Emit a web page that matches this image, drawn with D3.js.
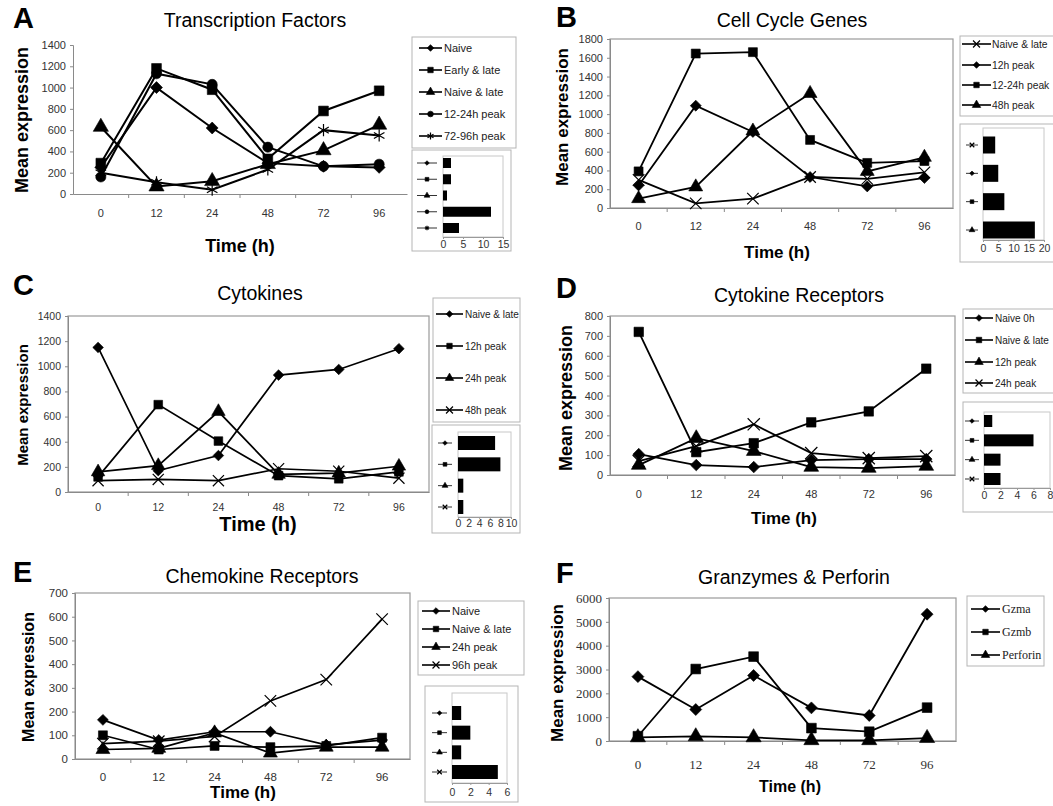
<!DOCTYPE html>
<html>
<head>
<meta charset="utf-8">
<script src="https://cdn.jsdelivr.net/npm/d3@7"></script>
<style>
  body { margin: 0; background: #fff; }
  svg { display: block; font-family: "Liberation Sans", Arial, sans-serif; }
</style>
</head>
<body>
<svg id="fig" width="1053" height="806"></svg>
<script>
// time points shared by every panel
const times = ['0', '12', '24', '48', '72', '96'];

// A - transcription factors
const tfNames = ['Naive', 'Early & late', 'Naive & late', '12-24h peak', '72-96h peak'];
const tfNaive = [250, 1000, 620, 290, 260, 250];
const tfEarlyLate = [290, 1180, 980, 330, 780, 970];
const tfNaiveLate = [630, 70, 120, 280, 410, 650];
const tfPeak1224 = [160, 1130, 1030, 440, 260, 280];
const tfPeak7296 = [200, 110, 40, 230, 600, 550];
const tfTicks = [0, 200, 400, 600, 800, 1000, 1200, 1400];
const tfCounts = [2, 2, 1, 12, 4];
const tfCountTicks = [0, 5, 10, 15];

// B - cell cycle genes
const ccNames = ['Naive & late', '12h peak', '12-24h peak', '48h peak'];
const ccNaiveLate = [300, 50, 100, 330, 310, 380];
const ccPeak12 = [240, 1090, 810, 330, 230, 320];
const ccPeak1224 = [390, 1645, 1660, 725, 480, 500];
const ccPeak48 = [100, 225, 820, 1220, 390, 540];
const ccTicks = [0, 200, 400, 600, 800, 1000, 1200, 1400, 1600, 1800];
const ccCounts = [4, 5, 7, 17];
const ccCountTicks = [0, 5, 10, 15, 20];

// C - cytokines
const ckNames = ['Naive & late', '12h peak', '24h peak', '48h peak'];
const ckNaiveLate = [1150, 170, 290, 930, 975, 1140];
const ckPeak12 = [120, 695, 405, 130, 105, 160];
const ckPeak24 = [160, 210, 640, 140, 150, 205];
const ckPeak48 = [90, 100, 90, 185, 165, 110];
const ckTicks = [0, 200, 400, 600, 800, 1000, 1200, 1400];
const ckCounts = [7, 8, 1, 1];
const ckCountTicks = [0, 2, 4, 6, 8, 10];

// D - cytokine receptors
const crNames = ['Naive 0h', 'Naive & late', '12h peak', '24h peak'];
const crNaive0 = [105, 50, 40, 75, 80, 80];
const crNaiveLate = [720, 115, 160, 265, 320, 535];
const crPeak12 = [50, 185, 120, 40, 35, 45];
const crPeak24 = [70, 145, 255, 110, 85, 95];
const crTicks = [0, 100, 200, 300, 400, 500, 600, 700, 800];
const crCounts = [1, 6, 2, 2];
const crCountTicks = [0, 2, 4, 6, 8];

// E - chemokine receptors
const chNames = ['Naive', 'Naive & late', '24h peak', '96h peak'];
const chNaive = [165, 80, 115, 115, 60, 80];
const chNaiveLate = [100, 40, 55, 50, 55, 90];
const chPeak24 = [40, 45, 110, 25, 50, 50];
const chPeak96 = [65, 75, 95, 245, 335, 590];
const chTicks = [0, 100, 200, 300, 400, 500, 600, 700];
const chCounts = [1, 2, 1, 5];
const chCountTicks = [0, 2, 4, 6];

// F - granzymes & perforin
const gpNames = ['Gzma', 'Gzmb', 'Perforin'];
const gzma = [2700, 1320, 2750, 1390, 1070, 5320];
const gzmb = [200, 3020, 3540, 540, 390, 1400];
const perforin = [150, 190, 150, 30, 30, 120];
const gpTicks = [0, 1000, 2000, 3000, 4000, 5000, 6000];

const sans = '"Liberation Sans", Arial, sans-serif';
const serif = '"Liberation Serif", "Times New Roman", serif';
const fmt = d3.format('d');

const panels = [
  {
    letter: 'A', title: 'Transcription Factors', names: tfNames,
    values: [tfNaive, tfEarlyLate, tfNaiveLate, tfPeak1224, tfPeak7296],
    kinds: ['diamond', 'square', 'triangle', 'circle', 'star'],
    yTicks: tfTicks, counts: tfCounts, countTicks: tfCountTicks,
    plot: [73, 45, 407, 194], border: false, mSize: 95, lw: 2,
    letterPos: [13, 28], titlePos: [255, 27], titleFs: 19.5,
    yLab: [22, 120, 18], xLab: [240, 252, 18], xTickY: 217, tickFont: sans, tickFs: 11,
    legend: { box: [412, 37, 104, 111], rows: [48, 70, 92, 114, 136], line: [419, 442], textX: 444, fs: 11 },
    inset: { box: [412, 150, 99, 101], zero: 443, end: 503, top: 156, bottom: 237, rows: [163, 228], barH: 10, mark: [417, 437], labY: 248 }
  },
  {
    letter: 'B', title: 'Cell Cycle Genes', names: ccNames,
    values: [ccNaiveLate, ccPeak12, ccPeak1224, ccPeak48],
    kinds: ['x', 'diamond', 'square', 'triangle'],
    yTicks: ccTicks, counts: ccCounts, countTicks: ccCountTicks,
    plot: [610, 39, 953, 208], border: true, mSize: 80, lw: 1.8,
    letterPos: [556, 27], titlePos: [792, 27], titleFs: 19.5,
    yLab: [562, 117, 17], xLab: [777, 258, 17], xTickY: 230, tickFont: sans, tickFs: 11,
    legend: { box: [960, 36, 100, 80], rows: [44, 65, 85, 105], line: [962, 991], textX: 992, fs: 10.3 },
    inset: { box: [960, 124, 100, 138], zero: 983, end: 1044, top: 128, bottom: 240, rows: [145, 230], barH: 17, mark: [966, 978], labY: 252 }
  },
  {
    letter: 'C', title: 'Cytokines', names: ckNames,
    values: [ckNaiveLate, ckPeak12, ckPeak24, ckPeak48],
    kinds: ['diamond', 'square', 'triangle', 'x'],
    yTicks: ckTicks, counts: ckCounts, countTicks: ckCountTicks,
    plot: [68, 316, 429, 492], border: true, mSize: 75, lw: 1.7,
    letterPos: [13, 295], titlePos: [260, 300], titleFs: 19.5,
    yLab: [23, 405, 15], xLab: [258, 531, 20], xTickY: 511, tickFont: sans, tickFs: 10.5,
    legend: { box: [433, 298, 87, 124], rows: [314, 346, 378, 410], line: [436, 463], textX: 465, fs: 10 },
    inset: { box: [432, 425, 88, 108], zero: 458, end: 511, top: 432, bottom: 517, rows: [443, 507], barH: 14, mark: [438, 452], labY: 527 }
  },
  {
    letter: 'D', title: 'Cytokine Receptors', names: crNames,
    values: [crNaive0, crNaiveLate, crPeak12, crPeak24],
    kinds: ['diamond', 'square', 'triangle', 'x'],
    yTicks: crTicks, counts: crCounts, countTicks: crCountTicks,
    plot: [610, 316, 955, 475], border: true, mSize: 90, lw: 1.8,
    letterPos: [556, 298], titlePos: [799, 302], titleFs: 19.5,
    yLab: [566, 398, 18], xLab: [784, 524, 17], xTickY: 498, tickFont: sans, tickFs: 11,
    legend: { box: [963, 309, 100, 84], rows: [318, 340, 362, 383], line: [965, 993], textX: 995, fs: 10 },
    inset: { box: [963, 402, 100, 110], zero: 984, end: 1050, top: 412, bottom: 488, rows: [421, 479], barH: 12, mark: [965, 979], labY: 499 }
  },
  {
    letter: 'E', title: 'Chemokine Receptors', names: chNames,
    values: [chNaive, chNaiveLate, chPeak24, chPeak96],
    kinds: ['diamond', 'square', 'triangle', 'x'],
    yTicks: chTicks, counts: chCounts, countTicks: chCountTicks,
    plot: [75, 593, 410, 759], border: true, mSize: 80, lw: 1.7,
    letterPos: [13, 582], titlePos: [262, 583], titleFs: 19.5,
    yLab: [28, 677, 16], xLab: [243, 798, 17], xTickY: 781, tickFont: sans, tickFs: 11.5,
    legend: { box: [418, 601, 106, 74], rows: [611, 629, 647, 665], line: [422, 450], textX: 452, fs: 11 },
    inset: { box: [425, 686, 93, 116], zero: 452, end: 507, top: 693, bottom: 783, rows: [713, 772], barH: 14, mark: [432, 447], labY: 796 }
  },
  {
    letter: 'F', title: 'Granzymes & Perforin', names: gpNames,
    values: [gzma, gzmb, perforin],
    kinds: ['diamond', 'square', 'triangle'],
    yTicks: gpTicks, counts: null,
    plot: [609, 598, 956, 741], border: true, mSize: 95, lw: 1.8,
    letterPos: [556, 583], titlePos: [794, 584], titleFs: 19.5,
    yLab: [557, 673, 17], xLab: [790, 792, 16], xTickY: 769, tickFont: serif, tickFs: 13,
    legend: { box: [967, 596, 77, 70], rows: [609, 632, 655], line: [971, 1000], textX: 1002, fs: 12, font: serif },
    inset: null
  }
];

const svg = d3.select('#fig');

const symbolTypes = {
  diamond: d3.symbolSquare, square: d3.symbolSquare, triangle: d3.symbolTriangle,
  circle: d3.symbolCircle, x: d3.symbolTimes, star: d3.symbolAsterisk
};
const sizeScale = { diamond: 0.75, square: 1, triangle: 1.05, circle: 0.85, x: 1.1, star: 1.1 };

function drawMarker(sel, kind, size) {
  const stroked = kind === 'x' || kind === 'star';
  sel.attr('d', d3.symbol().type(symbolTypes[kind]).size(size * sizeScale[kind])())
    .attr('fill', stroked ? 'none' : '#000')
    .attr('stroke', '#000')
    .attr('stroke-width', stroked ? 1.2 : 0.6);
}

function drawPanel(p) {
  const g = svg.append('g');
  const [px0, py0, px1, py1] = p.plot;
  const x = d3.scaleBand().domain(times).range([px0, px1]);
  const y = d3.scaleLinear().domain([0, d3.max(p.yTicks)]).range([py1, py0]);
  const cx = t => x(t) + x.bandwidth() / 2;

  if (p.border) {
    g.append('rect').attr('x', px0).attr('y', py0)
      .attr('width', px1 - px0).attr('height', py1 - py0)
      .attr('fill', 'none').attr('stroke', '#9a9a9a').attr('stroke-width', 1.2);
  }

  const ya = g.append('g').attr('transform', `translate(${px0},0)`)
    .call(d3.axisLeft(y).tickValues(p.yTicks).tickFormat(fmt).tickSize(3).tickPadding(4));
  ya.selectAll('text').attr('font-family', p.tickFont).attr('font-size', p.tickFs).attr('fill', '#333');

  const xa = g.append('g').attr('transform', `translate(0,${py1})`)
    .call(d3.axisBottom(x).tickSize(0));
  xa.selectAll('text').attr('y', p.xTickY - py1).attr('dy', 0)
    .attr('font-family', p.tickFont).attr('font-size', p.tickFs).attr('fill', '#333');
  // excel style tick marks at the category boundaries
  xa.selectAll('.bound').data(times.slice(1)).join('line')
    .attr('x1', d => x(d)).attr('x2', d => x(d)).attr('y1', 0).attr('y2', 4);
  g.selectAll('.domain, line').attr('stroke', '#8a8a8a');

  p.values.forEach(vals => {
    g.append('path').datum(vals)
      .attr('d', d3.line().x((v, i) => cx(times[i])).y(v => y(v)))
      .attr('fill', 'none').attr('stroke', '#000').attr('stroke-width', p.lw);
  });
  p.values.forEach((vals, si) => {
    const kind = p.kinds[si];
    g.selectAll(null).data(vals).join('path')
      .attr('transform', (v, i) => `translate(${cx(times[i])},${y(v)})` + (kind === 'diamond' ? ' rotate(45)' : ''))
      .call(drawMarker, kind, p.mSize);
  });

  // panel letter, title and axis titles
  g.append('text').attr('x', p.letterPos[0]).attr('y', p.letterPos[1])
    .attr('font-size', 29).attr('font-weight', 'bold').text(p.letter);
  g.append('text').attr('x', p.titlePos[0]).attr('y', p.titlePos[1])
    .attr('text-anchor', 'middle').attr('font-size', p.titleFs).text(p.title);
  g.append('text').attr('transform', `translate(${p.yLab[0]},${p.yLab[1]}) rotate(-90)`)
    .attr('text-anchor', 'middle').attr('dy', '0.35em')
    .attr('font-size', p.yLab[2]).attr('font-weight', 'bold').text('Mean expression');
  g.append('text').attr('x', p.xLab[0]).attr('y', p.xLab[1])
    .attr('text-anchor', 'middle').attr('font-size', p.xLab[2]).attr('font-weight', 'bold').text('Time (h)');

  // legend
  const L = p.legend;
  g.append('rect').attr('x', L.box[0]).attr('y', L.box[1]).attr('width', L.box[2]).attr('height', L.box[3])
    .attr('fill', '#fff').attr('stroke', '#b5b5b5');
  const li = g.selectAll(null).data(p.names).join('g')
    .attr('transform', (d, i) => `translate(0,${L.rows[i]})`);
  li.append('line').attr('x1', L.line[0]).attr('x2', L.line[1])
    .attr('stroke', '#000').attr('stroke-width', 1.6);
  li.append('path')
    .attr('transform', (d, i) => `translate(${(L.line[0] + L.line[1]) / 2},0)` + (p.kinds[i] === 'diamond' ? ' rotate(45)' : ''))
    .each(function (d, i) { d3.select(this).call(drawMarker, p.kinds[i], 30); });
  li.append('text').attr('x', L.textX).attr('dy', '0.35em')
    .attr('font-family', L.font || sans).attr('font-size', L.fs).attr('fill', '#222').text(d => d);

  if (!p.inset) return;
  // inset bar chart of gene counts per cluster
  const S = p.inset;
  g.append('rect').attr('x', S.box[0]).attr('y', S.box[1]).attr('width', S.box[2]).attr('height', S.box[3])
    .attr('fill', '#fff').attr('stroke', '#b5b5b5');
  const bx = d3.scaleLinear().domain([0, d3.max(p.countTicks)]).range([S.zero, S.end]);
  const by = d3.scalePoint().domain(p.names).range(S.rows);
  g.append('rect').attr('x', S.zero).attr('y', S.top).attr('width', S.end - S.zero).attr('height', S.bottom - S.top)
    .attr('fill', 'none').attr('stroke', '#c8c8c8');
  const ba = g.append('g').attr('transform', `translate(0,${S.bottom})`)
    .call(d3.axisBottom(bx).tickValues(p.countTicks).tickFormat(fmt).tickSize(2).tickPadding(2));
  ba.selectAll('text').attr('y', S.labY - S.bottom).attr('dy', 0)
    .attr('font-size', 10.5).attr('fill', '#333');
  ba.selectAll('.domain, line').attr('stroke', '#9a9a9a');
  g.selectAll(null).data(p.counts).join('rect')
    .attr('x', bx(0)).attr('y', (d, i) => by(p.names[i]) - S.barH / 2)
    .attr('width', d => bx(d) - bx(0)).attr('height', S.barH).attr('fill', '#000');
  const mk = g.selectAll(null).data(p.names).join('g')
    .attr('transform', d => `translate(0,${by(d)})`);
  mk.append('line').attr('x1', S.mark[0]).attr('x2', S.mark[1]).attr('stroke', '#333').attr('stroke-width', 1);
  mk.append('path')
    .attr('transform', (d, i) => `translate(${(S.mark[0] + S.mark[1]) / 2},0)` + (p.kinds[i] === 'diamond' ? ' rotate(45)' : ''))
    .each(function (d, i) { d3.select(this).call(drawMarker, p.kinds[i], 14); });
}

panels.forEach(drawPanel);
</script>
</body>
</html>
